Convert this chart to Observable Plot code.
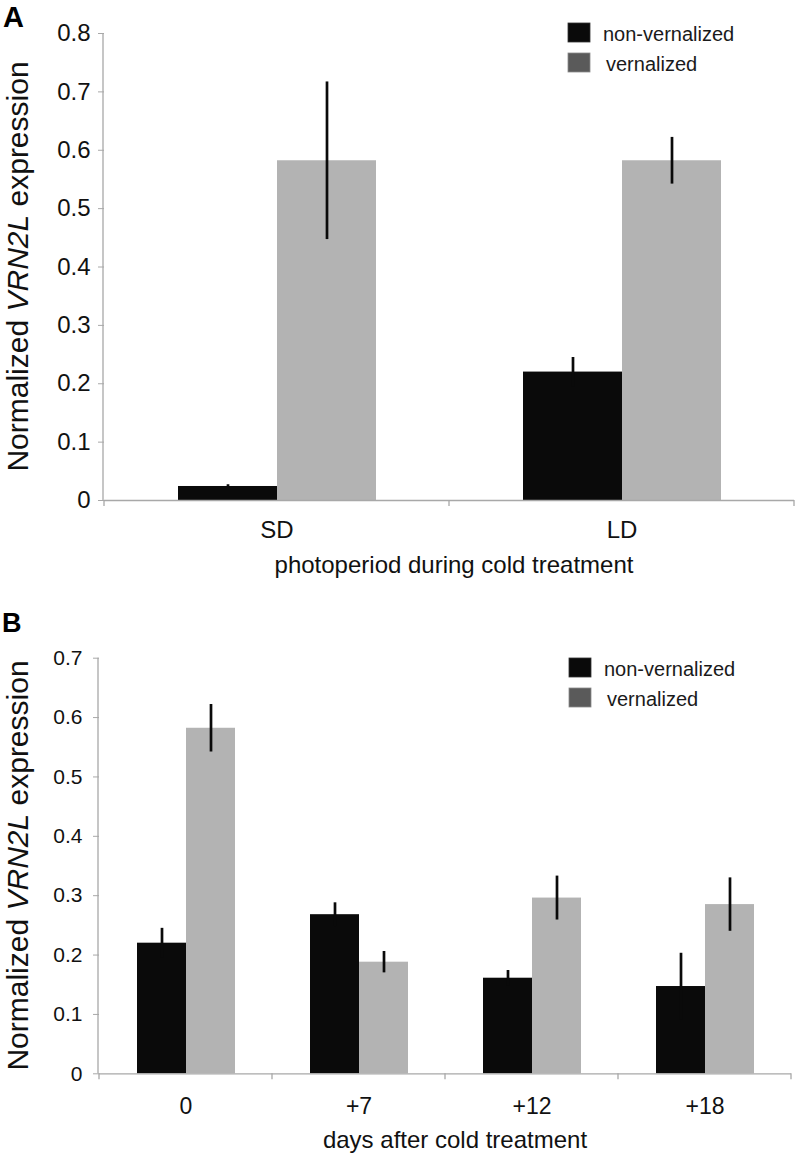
<!DOCTYPE html>
<html><head><meta charset="utf-8">
<script src="https://cdn.jsdelivr.net/npm/d3@7"></script>
<script src="https://cdn.jsdelivr.net/npm/@observablehq/plot@0.6"></script>
<style>
body{margin:0;background:#fff;}
#root{position:relative;width:796px;height:1159px;background:#fff;overflow:hidden;}
#root svg{position:absolute;left:0;}
</style></head><body><div id="root"></div>
<script>
// ---- data ----
const seriesNames = ["non-vernalized", "vernalized"];
const seriesColors = ["#0a0a0a", "#b3b3b3"];
const legendColors = ["#0a0a0a", "#5a5a5a"];

const catsA = ["SD", "LD"];
const nonVernA = [0.024, 0.220];
const nonVernErrA = [0.003, 0.025];
const vernA = [0.582, 0.582];
const vernErrA = [0.135, 0.040];
const yTicksA = [0, 0.1, 0.2, 0.3, 0.4, 0.5, 0.6, 0.7, 0.8];

const catsB = ["0", "+7", "+12", "+18"];
const nonVernB = [0.220, 0.268, 0.161, 0.147];
const nonVernErrB = [0.025, 0.020, 0.013, 0.056];
const vernB = [0.582, 0.188, 0.296, 0.285];
const vernErrB = [0.040, 0.018, 0.037, 0.045];
const yTicksB = [0, 0.1, 0.2, 0.3, 0.4, 0.5, 0.6, 0.7];

const titleA = "photoperiod during cold treatment";
const titleB = "days after cold treatment";

const FONT = "'Liberation Sans', Arial, Helvetica, sans-serif";
const AXIS = "#a8a8a8";

function panel(o) {
  const rows = o.cats.flatMap((c, i) => [
    {cat: c, series: seriesNames[0], value: o.nv[i], err: o.nvErr[i]},
    {cat: c, series: seriesNames[1], value: o.v[i], err: o.vErr[i]}
  ]);
  const yMax = o.yTicks[o.yTicks.length - 1];
  const plot = Plot.plot({
    width: 796,
    height: o.height,
    marginTop: o.marginTop,
    marginBottom: o.marginBottom,
    marginLeft: o.marginLeft,
    marginRight: o.marginRight,
    style: {fontFamily: FONT, background: "white", color: "#111", overflow: "visible"},
    fx: {domain: o.cats, padding: 0, label: null},
    x: {domain: seriesNames, paddingInner: 0, paddingOuter: 0.74, axis: null},
    y: {domain: [0, yMax], label: null},
    color: {domain: seriesNames, range: seriesColors},
    marks: [
      Plot.barY(rows, {fx: "cat", x: "series", y: "value", fill: "series"}),
      Plot.ruleX(rows, {fx: "cat", x: "series", y1: d => d.value - d.err, y2: d => d.value + d.err, stroke: "#0a0a0a", strokeWidth: 2.7}),
      Plot.ruleY([0], {stroke: AXIS, strokeWidth: 1.3}),
      Plot.axisY({ticks: o.yTicks, tickSize: 6, tickPadding: o.yPad, stroke: AXIS, fill: "#111", fontSize: o.tickFont,
        tickFormat: d => d === 0 ? "0" : d3.format(".1f")(d), label: null}),
      Plot.axisFx({anchor: "bottom", tickSize: 0, tickPadding: o.catPad, fontSize: o.catFont, fill: "#111", label: null})
    ]
  });
  const svg = d3.select(plot);
  const fx = plot.scale("fx");
  const y = plot.scale("y");
  const y0 = y.apply(0), yT = y.apply(yMax);
  const left = fx.range[0], right = fx.range[1];
  // y axis line
  svg.append("line").attr("x1", left).attr("x2", left).attr("y1", yT).attr("y2", y0)
    .attr("stroke", AXIS).attr("stroke-width", 1.3);
  // category boundary ticks
  const edges = o.cats.map(c => fx.apply(c)).concat([right]);
  svg.append("g").selectAll("line").data(edges).join("line")
    .attr("x1", d => d).attr("x2", d => d).attr("y1", y0).attr("y2", y0 + 6)
    .attr("stroke", AXIS).attr("stroke-width", 1.3);
  // y title
  const yt = svg.append("text").attr("transform", `translate(${o.yTitleX},${(yT + y0) / 2}) rotate(-90)`)
    .attr("text-anchor", "middle").attr("font-family", FONT).attr("font-size", o.yTitleFont).attr("fill", "#111");
  yt.append("tspan").text("Normalized ");
  yt.append("tspan").attr("font-style", "italic").text("VRN2L");
  yt.append("tspan").text(" expression");
  // x title
  svg.append("text").attr("x", o.xTitleX).attr("y", o.xTitleY).attr("text-anchor", "middle")
    .attr("font-family", FONT).attr("font-size", o.xTitleFont).attr("fill", "#111").text(o.xTitle);
  // panel letter
  svg.append("text").attr("x", o.letterX).attr("y", o.letterY).attr("text-anchor", "start").attr("font-family", FONT)
    .attr("font-weight", "bold").attr("font-size", o.letterFont).attr("fill", "#000").text(o.letter);
  // legend
  const lg = svg.append("g").attr("text-anchor", "start");
  seriesNames.forEach((s, i) => {
    lg.append("rect").attr("x", o.legX).attr("y", o.legY[i]).attr("width", 22).attr("height", 19)
      .attr("fill", legendColors[i]).attr("stroke", i ? "#8a8a8a" : "#333").attr("stroke-width", 0.8);
    lg.append("text").attr("x", o.legTextX[i]).attr("y", o.legY[i] + 18).attr("text-anchor", "start").attr("font-family", FONT)
      .attr("font-size", 20).attr("fill", "#1a1a1a").text(s);
  });
  plot.style.top = o.top + "px";
  return plot;
}

const root = document.getElementById("root");
root.appendChild(panel({
  cats: catsA, nv: nonVernA, nvErr: nonVernErrA, v: vernA, vErr: vernErrA, yTicks: yTicksA,
  top: 0, height: 580, marginTop: 33, marginBottom: 80, marginLeft: 103, marginRight: 2,
  tickFont: 24, yPad: 8, catFont: 24, catPad: 20,
  yTitleX: 27.5, yTitleFont: 30,
  xTitle: titleA, xTitleX: 454, xTitleY: 573, xTitleFont: 24,
  letter: "A", letterX: 3, letterY: 26.5, letterFont: 29,
  legX: 568, legY: [23, 53], legTextX: [603, 606]
}));
root.appendChild(panel({
  cats: catsB, nv: nonVernB, nvErr: nonVernErrB, v: vernB, vErr: vernErrB, yTicks: yTicksB,
  top: 580, height: 579, marginTop: 77.7, marginBottom: 85.7, marginLeft: 98, marginRight: 5,
  tickFont: 21, yPad: 11, catFont: 23, catPad: 24,
  yTitleX: 27.5, yTitleFont: 30,
  xTitle: titleB, xTitleX: 455, xTitleY: 568, xTitleFont: 24,
  letter: "B", letterX: 2, letterY: 52, letterFont: 27,
  legX: 569, legY: [78, 108], legTextX: [604, 607]
}));
</script></body></html>
